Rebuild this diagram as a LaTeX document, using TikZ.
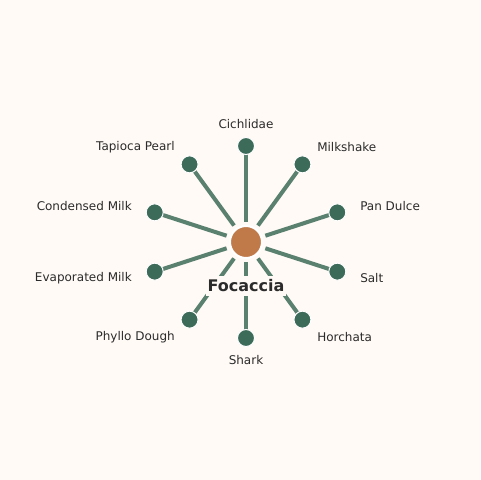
\documentclass[tikz,border=0pt]{standalone}
\usepackage{fontspec}
\setmainfont{DejaVu Sans}
\usetikzlibrary{calc}
\definecolor{bg}{HTML}{FFFAF6}
\definecolor{spoke}{HTML}{5A8070}
\definecolor{dotc}{HTML}{3D6B5A}
\definecolor{hub}{HTML}{C07A4A}
\definecolor{txt}{HTML}{2B2B2B}
\begin{document}
\begin{tikzpicture}[x=0.75pt,y=-0.75pt,
  dotn/.style={circle,fill=dotc,draw=white,line width=0.75pt,minimum size=12.75pt,inner sep=0pt},
  hubn/.style={circle,fill=hub,draw=white,line width=1.5pt,minimum size=24pt,inner sep=0pt},
  spk/.style={spoke,line width=3pt,shorten <=2.5pt},
  lbl/.style={text=txt,font=\fontsize{9}{11}\selectfont,inner sep=0pt}]
\fill[bg] (0,0) rectangle (480,480);
\useasboundingbox (0,0) rectangle (480,480);
\node[hubn] (c) at (246,242) {};
\foreach \i/\name in {0/a,1/b,2/cc,3/d,4/e,5/f,6/g,7/h,8/k,9/m}{
  \pgfmathsetmacro\ang{90-36*\i}
  \node[dotn] (\name) at ($(246,242)+(\ang:72pt)$) {};
}
\foreach \name in {a,b,cc,d,e,f,g,h,k,m}{
  \draw[spk] (c) -- (\name.center);
}
\foreach \name in {a,b,cc,d,e,f,g,h,k,m}{
  \node[dotn] at (\name) {};
}
\node[hubn] at (c) {};
\node[lbl,anchor=center] (la) at (246,124) {Cichlidae};
\node[lbl,anchor=west] (lb) at (317,147) {Milkshake};
\node[lbl,anchor=west] (lc) at (360,206) {Pan Dulce};
\node[lbl,anchor=west] (ld) at (360,278) {Salt};
\node[lbl,anchor=west] (le) at (317,337) {Horchata};
\node[lbl,anchor=center] (lf) at (246,360) {Shark};
\node[lbl,anchor=east] (lg) at (175,337) {Phyllo Dough};
\node[lbl,anchor=east] (lh) at (132,278) {Evaporated Milk};
\node[lbl,anchor=east] (lk) at (132,206) {Condensed Milk};
\node[lbl,anchor=east] (lm) at (175,147) {Tapioca Pearl};
\node[fill=bg,text=txt,font=\fontsize{12}{14}\selectfont\bfseries,inner xsep=1pt,inner ysep=3pt] (title) at (246,286) {Focaccia};
\end{tikzpicture}
\end{document}
